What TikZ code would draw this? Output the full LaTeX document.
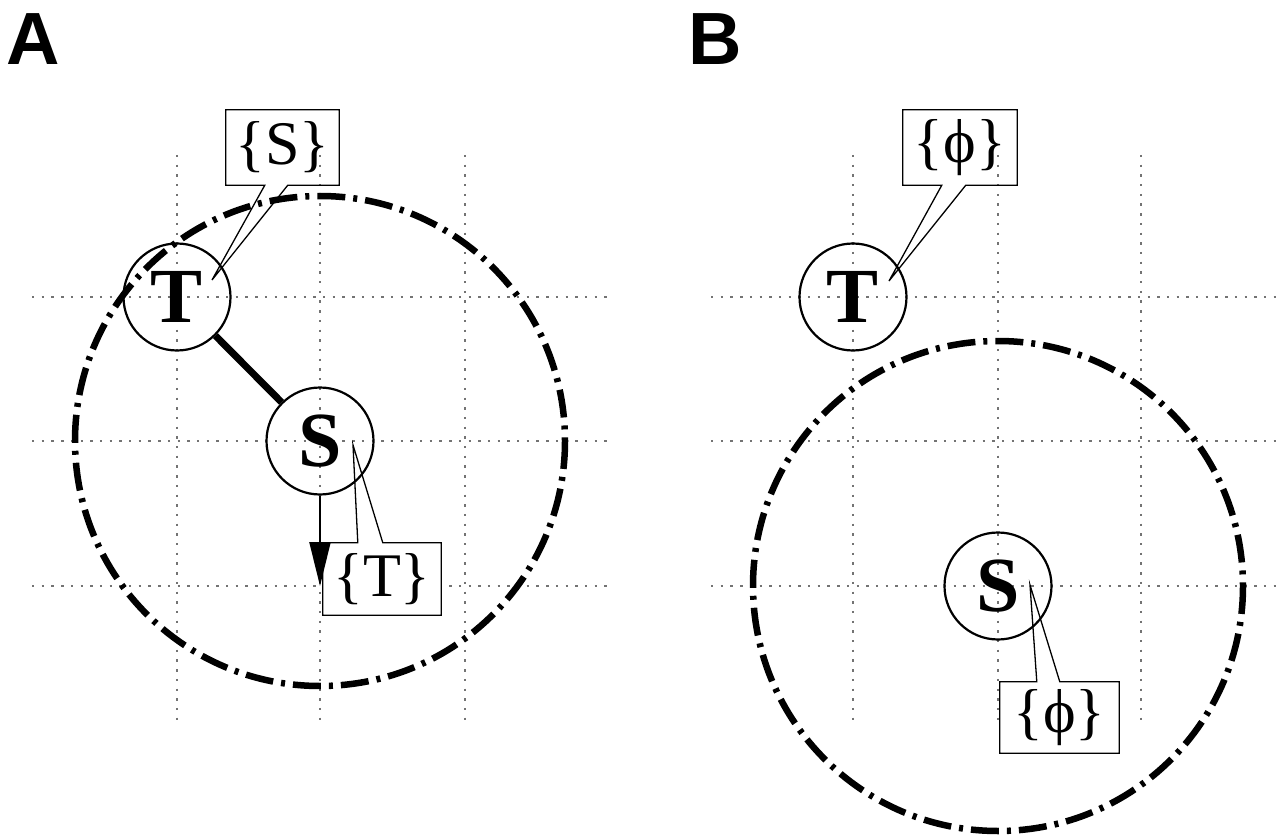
\documentclass[tikz,border=0pt]{standalone}
\usepackage{fontspec}
\setmainfont{Liberation Serif}
\newfontfamily\panelfont{Liberation Sans}
\usetikzlibrary{arrows.meta,calc}
\begin{document}
\begin{tikzpicture}[x=1pt,y=-1pt,
  gridline/.style={draw=black!55, line width=2.2pt, dash pattern=on 2.4pt off 7.3pt},
  agent/.style={circle, draw, line width=2.2pt, minimum size=107pt, inner sep=0pt,
    font=\fontsize{78}{78}\selectfont\bfseries},
  rangecircle/.style={line width=6.5pt, dash pattern=on 28pt off 8pt on 4pt off 8pt},
  bubble/.style={line width=1.3pt, line join=miter},
  boxtext/.style={inner sep=0pt, font=\fontsize{62}{62}\selectfont},
  panel/.style={font=\panelfont\bfseries\fontsize{74}{74}\selectfont, inner sep=0pt, anchor=base west}
]
\useasboundingbox (0,0) rectangle (1278,837);

% panel labels
\node[panel] (labA) at (6,65) {A};
\node[panel] (labB) at (688,65) {B};

% grids
\foreach \x in {177,320,465} \draw[gridline] (\x,155) -- (\x,725);
\foreach \y in {297,441,586} \draw[gridline] (32,\y) -- (608,\y);
\foreach \x in {853,998,1141} \draw[gridline] (\x,155) -- (\x,725);
\foreach \y in {297,441,586} \draw[gridline] (711,\y) -- (1277,\y);

% agents
\node[agent] (TA) at (177,297) {T};
\node[agent] (SA) at (320,441) {S};
\node[agent] (TB) at (853,297) {T};
\node[agent] (SB) at (998,586) {S};

% callouts, panel A
\node[boxtext, minimum width=113pt, minimum height=75pt] (cbS) at (282.5,147.5) {\{S\}};
\coordinate (tipS) at (212,280);
\draw[bubble] ($(cbS.south west)+(39,0)$) -- (tipS) -- ($(cbS.south west)+(62,0)$)
  -- (cbS.south east) -- (cbS.north east) -- (cbS.north west) -- (cbS.south west) -- cycle;

\node[boxtext, minimum width=118pt, minimum height=72pt, fill=white] (cbT) at (382,579) {\{T\}};
\coordinate (tipT) at (353,445);
\draw[bubble] ($(cbT.north west)+(35,0)$) -- (tipT) -- ($(cbT.north west)+(60,0)$)
  -- (cbT.north east) -- (cbT.south east) -- (cbT.south west) -- (cbT.north west) -- cycle;

% callouts, panel B
\node[boxtext, minimum width=114pt, minimum height=75pt] (cbT2) at (960,147.5) {\{ϕ\}};
\coordinate (tipT2) at (889,281);
\draw[bubble] ($(cbT2.south west)+(39,0)$) -- (tipT2) -- ($(cbT2.south west)+(63,0)$)
  -- (cbT2.south east) -- (cbT2.north east) -- (cbT2.north west) -- (cbT2.south west) -- cycle;

\node[boxtext, minimum width=119pt, minimum height=71pt] (cbS2) at (1059.5,717.5) {\{ϕ\}};
\coordinate (tipS2) at (1030,585);
\draw[bubble] ($(cbS2.north west)+(37,0)$) -- (tipS2) -- ($(cbS2.north west)+(60,0)$)
  -- (cbS2.north east) -- (cbS2.south east) -- (cbS2.south west) -- (cbS2.north west) -- cycle;

% ranges
\draw[rangecircle] (SA.center) circle[radius=245];
\draw[rangecircle] (SB.center) circle[radius=245];

% link and move
\draw[line width=7pt] (TA) -- (SA);
\coordinate (moveto) at (320,586);
\draw[line width=2.3pt, -{Triangle[length=44pt,width=21pt]}] (SA) -- (moveto);
\end{tikzpicture}
\end{document}
